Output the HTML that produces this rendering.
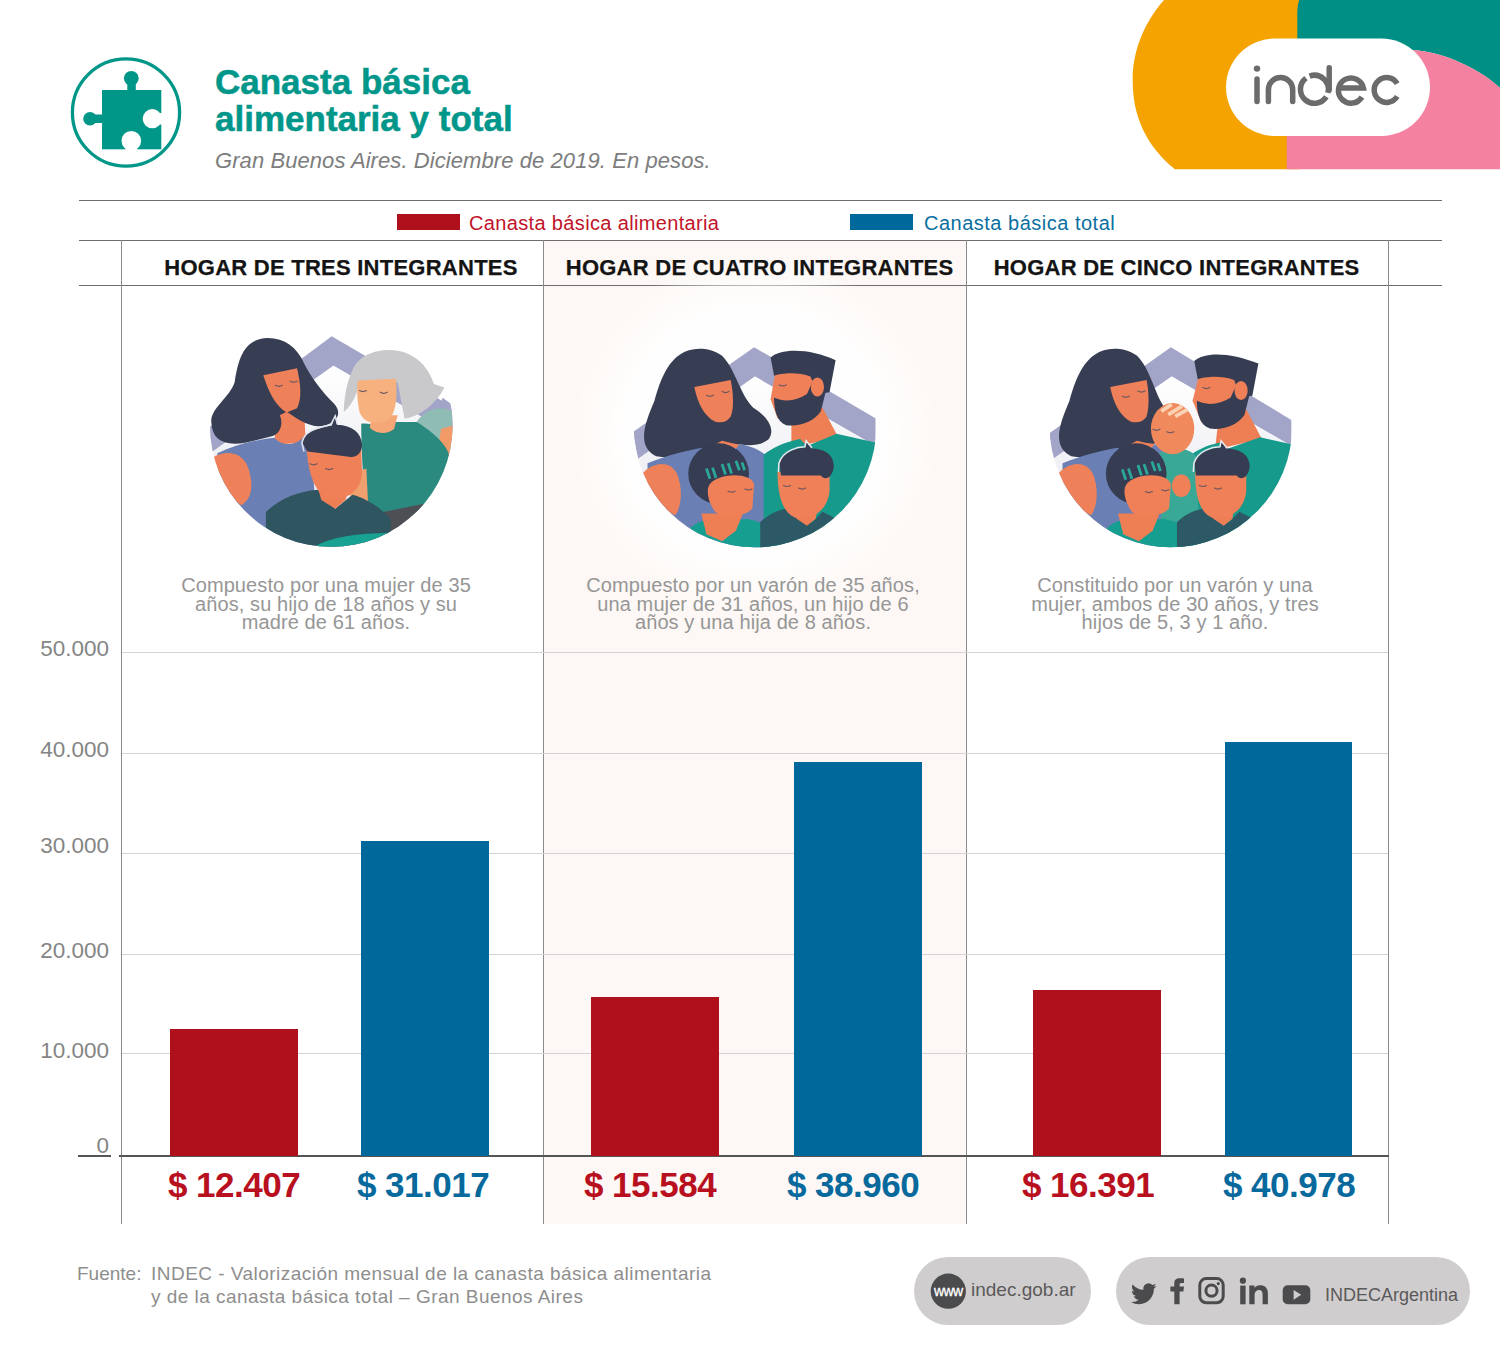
<!DOCTYPE html>
<html><head><meta charset="utf-8">
<style>
html,body{margin:0;padding:0;background:#fff;}
body{width:1500px;height:1361px;position:relative;overflow:hidden;font-family:"Liberation Sans",sans-serif;}
.a{position:absolute;}
.hl{position:absolute;height:1px;background:#6e6e6e;}
.vl{position:absolute;width:1px;background:#8a8a8a;}
.gl{position:absolute;height:1px;background:#d4d4d4;}
.title{position:absolute;left:215px;top:64px;color:#00968a;font-weight:bold;font-size:35px;line-height:36.5px;white-space:nowrap;-webkit-text-stroke:0.5px #00968a;}
.sub{position:absolute;left:215px;top:148px;color:#7d7d7d;font-style:italic;font-size:22px;letter-spacing:0.08px;white-space:nowrap;}
.hdr{position:absolute;top:255px;width:500px;font-weight:bold;font-size:22px;letter-spacing:0.25px;color:#141414;-webkit-text-stroke:0.25px #141414;white-space:nowrap;text-align:center;}
.desc{position:absolute;top:576px;width:500px;font-size:20px;letter-spacing:0.1px;line-height:18.7px;color:#969696;text-align:center;white-space:nowrap;}
.ylab{position:absolute;font-size:22.5px;line-height:25px;color:#858585;text-align:right;width:80px;left:29px;}
.bar{position:absolute;}
.r{background:#b0101b;}
.b{background:#00689a;}
.val{position:absolute;top:1165px;font-weight:bold;font-size:35px;letter-spacing:-0.5px;white-space:nowrap;text-align:center;}
.leg{position:absolute;top:212px;font-size:20px;letter-spacing:0.35px;white-space:nowrap;}
</style></head>
<body>
<!-- logo shapes -->
<svg class="a" style="left:0;top:0" width="1500" height="200" viewBox="0 0 1500 200">
  <path d="M1164 0 H1300 V169.3 H1175 C1145 145 1133 115 1132.7 82 C1132 55 1142 25 1164 0 Z" fill="#f5a300"/>
  <path d="M1299.3 0 H1500 V88 C1475 65 1440 52 1413 50 H1297.3 V12 Q1297.5 4 1299.3 0 Z" fill="#008f85"/>
  <path d="M1286.7 169.3 V50 H1413 C1440 52 1475 65 1500 88 V169.3 Z" fill="#f4819f"/>
  <rect x="1226" y="38.5" width="204" height="97.5" rx="48.75" fill="#fff"/>
  <g fill="none" stroke="#6b6b6b" stroke-width="5.5">
    <circle cx="1257" cy="68.6" r="3.2" fill="#6b6b6b" stroke="none"/>
    <path d="M1257 79 V101.6" stroke-linecap="round"/>
    <path d="M1268.4 101.6 V89.75 A12.15 12.15 0 0 1 1292.7 89.75 V101.6" stroke-linecap="round"/>
    <path d="M1329.2 67.8 V90" stroke-linecap="round"/>
    <path d="M1309.6 76.1 A14 14 0 0 1 1327.9 92.9"/>
    <path d="M1326.3 96.7 A14 14 0 1 1 1306.0 78.1"/>
    <path d="M1338 88 H1363.4 A12.6 12.6 0 1 0 1361.9 97"/>
    <path d="M1397.2 83.6 A12.4 12.4 0 1 0 1397.2 96.4"/>
  </g>
</svg>

<!-- puzzle icon -->
<svg class="a" style="left:0;top:0" width="200" height="200" viewBox="0 0 200 200">
  <defs>
    <mask id="pz">
      <rect x="0" y="0" width="200" height="200" fill="#fff"/>
      <circle cx="152.3" cy="118.7" r="9.6" fill="#000"/>
      <rect x="152" y="113" width="12" height="11.5" fill="#000"/>
      <circle cx="131.3" cy="140.8" r="9.8" fill="#000"/>
      <rect x="125.5" y="141" width="11.6" height="12" fill="#000"/>
    </mask>
  </defs>
  <circle cx="126" cy="112.5" r="53.6" fill="none" stroke="#009688" stroke-width="3.3"/>
  <g fill="#009688" mask="url(#pz)">
    <rect x="102" y="90" width="59.3" height="59.3"/>
    <circle cx="131.3" cy="78.3" r="7.4"/>
    <rect x="127.3" y="82" width="8.5" height="9"/>
    <circle cx="90" cy="118.7" r="6.8"/>
    <rect x="93" y="114.5" width="10" height="8.5"/>
  </g>
</svg>

<div class="title">Canasta básica<br>alimentaria y total</div>
<div class="sub">Gran Buenos Aires. Diciembre de 2019. En pesos.</div>

<!-- middle column bg -->
<div class="a" style="left:544px;top:241px;width:422px;height:983px;background:#fdf8f5;"></div>
<!-- table lines -->
<div class="hl" style="left:79px;width:1363px;top:200px;"></div>
<div class="hl" style="left:79px;width:1363px;top:240px;"></div>
<div class="hl" style="left:79px;width:1363px;top:285px;"></div>



<!-- illustrations -->
<svg class="a" style="left:0;top:0" width="1500" height="700" viewBox="0 0 1500 700">
<defs>
  <radialGradient id="glow" cx="50%" cy="50%" r="50%">
    <stop offset="0%" stop-color="#ffffff" stop-opacity="1"/>
    <stop offset="70%" stop-color="#ffffff" stop-opacity="0.9"/>
    <stop offset="100%" stop-color="#ffffff" stop-opacity="0"/>
  </radialGradient>
  <linearGradient id="inroof" x1="0" y1="0" x2="0" y2="1">
    <stop offset="0%" stop-color="#ffffff"/>
    <stop offset="100%" stop-color="#dfe0ea"/>
  </linearGradient>
  <clipPath id="c1"><circle cx="757" cy="580" r="700"/></clipPath>
  <clipPath id="c2"><circle cx="750" cy="525" r="700"/></clipPath>
  <clipPath id="c3"><circle cx="755" cy="525" r="700"/></clipPath>
</defs>
<ellipse cx="755" cy="435" rx="185" ry="180" fill="url(#glow)"/>

<!-- ILLUS 1 -->
<g transform="translate(200,325) scale(0.173333)" clip-path="url(#c1)">
  <path d="M40 600 L760 65 L1470 480 L1470 640 L770 235 L60 740 Z" fill="#a3a5c8"/>
  <path d="M770 235 L1470 640 L1470 1300 L60 1300 L60 740 Z" fill="url(#inroof)"/>
  <path d="M1400 420 L1470 470 L1470 760 L1300 700 Z" fill="#a3a5c8"/>
  <!-- woman -->
  <path d="M440 470 L600 470 L610 680 L430 690 Z" fill="#ee8159"/>
  <path d="M390 75 C250 80 220 200 200 330 C170 420 60 480 65 560 C70 660 130 700 260 680 L420 640 C470 620 480 560 460 520 L500 500 C560 540 640 600 720 580 C800 560 820 500 770 450 C700 380 640 300 600 220 C560 130 490 75 390 75 Z" fill="#373d53"/>
  
  <path d="M365 290 L560 250 C580 340 590 420 560 480 L500 505 C440 470 400 400 365 290 Z" fill="#ee8159"/>
  <path d="M100 740 C200 690 330 660 430 650 C470 700 560 700 600 640 C650 700 670 900 660 1300 L100 1300 Z" fill="#6a7fb3"/>
  <path d="M80 760 C150 720 250 730 280 830 C310 930 300 1000 240 1040 C170 1000 90 880 80 760 Z" fill="#ee8159"/>
  <!-- grandma -->
  <path d="M880 260 C920 160 1050 130 1150 150 C1280 180 1330 280 1350 340 L1410 360 C1380 420 1300 520 1180 540 L1140 330 L920 340 C900 420 860 480 830 500 C830 420 850 320 880 260 Z" fill="#c9c9cb"/>
  <path d="M1250 560 C1300 480 1400 460 1455 500 L1460 720 L1280 700 Z" fill="#8fbcb4"/>
  <path d="M1390 600 L1460 580 L1460 770 L1370 740 Z" fill="#f39a69"/>
  <path d="M930 570 C980 560 1040 600 1100 560 L1250 560 C1350 620 1430 700 1440 760 L1440 1100 L960 1100 C940 900 930 700 930 570 Z" fill="#2a8a80"/>
  <path d="M990 520 L1140 520 L1120 600 C1070 640 1000 620 980 590 Z" fill="#f6a777"/>
  <path d="M910 320 L1130 310 C1140 420 1130 520 1080 550 C1000 580 940 560 920 500 C905 430 905 370 910 320 Z" fill="#f7b17f"/>
  <path d="M860 850 L960 830 L970 1040 L870 1040 Z" fill="#f0a06e"/>
  <path d="M1000 1090 L1300 1030 L1300 1200 L1000 1200 Z" fill="#4d4f55"/>
  <!-- boy -->
  <path d="M380 1080 C460 1000 560 960 680 950 L780 1060 L880 980 C960 1000 1050 1060 1100 1120 L1100 1300 L380 1300 Z" fill="#2e5560"/>
  <path d="M680 940 L860 940 L840 1010 L780 1060 L700 1010 Z" fill="#ee7f55"/>
  <path d="M615 720 L930 700 L935 850 C930 950 860 1010 760 1000 C680 990 630 900 615 720 Z" fill="#ef8058"/>
  <path d="M590 680 C600 620 660 600 760 580 L780 530 L790 575 C880 580 930 620 935 690 C935 740 900 770 860 760 L620 730 Z" fill="#363c52"/>
  <path d="M600 730 L588 680 C600 615 660 595 755 575 L780 525 L792 572" fill="none" stroke="#dfe3ee" stroke-width="9"/>
  <path d="M640 1300 C700 1230 900 1200 1100 1200 L1100 1300 Z" fill="#17a293"/>
  <g stroke="#6a5560" stroke-width="7" fill="none" stroke-linecap="round"><path d="M435 348 Q455 360 475 348"/><path d="M520 324 Q540 336 560 324"/><path d="M920 378 Q940 390 960 378"/><path d="M1040 388 Q1060 400 1080 388"/><path d="M635 801 Q655 813 675 801"/><path d="M725 828 Q745 840 765 828"/></g>
</g>

<!-- ILLUS 2 -->
<g transform="translate(625,335) scale(0.173333)" clip-path="url(#c2)">
  <path d="M45 560 L745 70 L1445 480 L1445 640 L750 240 L75 715 Z" fill="#a3a5c8"/>
  <path d="M750 240 L1445 640 L1445 1300 L75 1300 L75 715 Z" fill="url(#inroof)"/>
  <!-- woman -->
  <path d="M500 470 L640 470 L660 650 L490 660 Z" fill="#ee8159"/>
  <path d="M430 80 C250 80 200 280 170 380 C120 500 60 640 180 700 C300 720 420 680 500 640 L560 610 C640 630 760 660 830 600 C870 540 820 470 740 420 C660 340 640 200 560 120 C520 90 470 80 430 80 Z" fill="#373d53"/>
  
  <path d="M400 300 L610 260 C625 340 630 420 610 470 C590 500 560 510 520 500 C460 470 420 400 400 300 Z" fill="#ee8159"/>
  <path d="M130 740 C250 690 380 660 450 650 C500 700 620 700 660 630 C740 640 820 680 850 740 L870 1300 L130 1300 Z" fill="#6a7fb3"/>
  <path d="M100 800 C160 730 260 720 300 800 C340 900 320 1000 290 1040 C200 1000 120 900 100 800 Z" fill="#ee8159"/>
  <!-- man -->
  <path d="M960 460 L1140 420 L1230 590 L960 650 Z" fill="#ee7f55"/>
  <path d="M800 690 C880 630 960 610 1010 600 L1050 640 L1220 570 L1445 620 L1445 1300 L800 1300 Z" fill="#169a8c"/>
  <path d="M870 200 L1070 220 L1140 250 L1130 420 L1000 520 L880 480 L840 370 Z" fill="#ef8058"/>
  <path d="M860 360 C920 390 990 380 1050 340 L1090 250 L1160 320 L1130 440 C1090 500 1010 530 930 520 C875 500 860 430 860 360 Z" fill="#363c52"/>
  <path d="M840 130 C900 70 1080 80 1215 145 L1180 330 L1110 340 L1070 240 C1000 210 900 220 860 235 Z" fill="#363c52"/>
  <ellipse cx="1110" cy="300" rx="38" ry="55" fill="#ef8058"/>
  <!-- girl -->
  <path d="M380 1110 C440 1060 520 1050 560 1080 L700 1060 C800 1080 870 1120 920 1180 L920 1300 L380 1300 Z" fill="#169f91"/>
  <path d="M440 1030 L680 1030 L640 1130 L560 1190 L470 1150 Z" fill="#ee7f55"/>
  <circle cx="540" cy="800" r="175" fill="#363c52"/>
  <g stroke="#2aa898" stroke-width="16"><path d="M470 770 L490 830 M505 765 L525 825 M560 745 L580 805 M595 740 L615 800 M640 725 L660 780 M675 735 L690 780"/></g>
  <path d="M480 880 C500 800 720 780 745 860 L735 1000 C700 1050 560 1060 520 1020 C490 980 470 920 480 880 Z" fill="#ef8058"/>
  <!-- boy -->
  <path d="M780 1080 C850 1010 950 990 1000 1000 L1080 1080 L1140 1020 C1200 1050 1260 1080 1300 1100 L1300 1300 L780 1300 Z" fill="#2d5966"/>
  <path d="M980 1000 L1110 1000 L1100 1060 L1050 1100 L990 1060 Z" fill="#ee7f55"/>
  <path d="M880 790 L1180 780 L1180 900 C1170 1000 1100 1060 1000 1060 C920 1040 880 950 880 790 Z" fill="#ef8058"/>
  <path d="M890 740 C910 670 1000 650 1040 650 L1045 615 L1075 655 C1150 655 1205 690 1205 760 C1195 830 1150 840 1130 810 L900 810 Z" fill="#363c52"/>
  <path d="M885 790 L888 740 C910 665 1000 645 1038 645 L1045 610 L1078 650" fill="none" stroke="#e6e8ef" stroke-width="9"/>
  <g stroke="#6a5560" stroke-width="7" fill="none" stroke-linecap="round"><path d="M470 348 Q490 360 510 348"/><path d="M560 326 Q580 338 600 326"/><path d="M890 288 Q910 300 930 288"/><path d="M595 901 Q615 913 635 901"/><path d="M692 888 Q712 900 732 888"/><path d="M915 868 Q935 880 955 868"/><path d="M1002 883 Q1022 895 1042 883"/></g>
</g>

<!-- ILLUS 3 -->
<g transform="translate(1040,335) scale(0.173333)" clip-path="url(#c3)">
  <path d="M50 570 L755 70 L1450 490 L1450 640 L760 240 L75 715 Z" fill="#a3a5c8"/>
  <path d="M760 240 L1450 640 L1450 1300 L75 1300 L75 715 Z" fill="url(#inroof)"/>
  <!-- woman -->
  <path d="M500 470 L640 470 L660 650 L490 660 Z" fill="#ee8159"/>
  <path d="M430 80 C250 80 200 280 170 380 C120 500 60 640 180 700 C300 720 420 680 500 640 L560 610 C640 630 700 640 740 600 C760 540 740 480 720 420 C660 340 640 200 560 120 C520 90 470 80 430 80 Z" fill="#373d53"/>
  
  <path d="M405 300 L615 260 C630 340 630 420 615 470 C595 500 565 510 525 500 C465 470 425 400 405 300 Z" fill="#ee8159"/>
  <path d="M130 740 C250 690 380 660 450 650 C500 700 620 700 660 630 C720 640 740 680 760 740 L760 1300 L130 1300 Z" fill="#6a7fb3"/>
  <path d="M105 800 C165 730 265 720 305 800 C345 900 325 1000 295 1040 C205 1000 125 900 105 800 Z" fill="#ee8159"/>
  <!-- man -->
  <path d="M1030 480 L1190 430 L1280 600 L1010 660 Z" fill="#ee7f55"/>
  <path d="M860 700 C920 650 990 630 1040 620 L1070 660 L1270 590 L1450 630 L1450 1300 L860 1300 Z" fill="#169a8c"/>
  <path d="M920 220 L1110 240 L1190 270 L1180 440 L1050 540 L930 500 L880 380 Z" fill="#ef8058"/>
  <path d="M905 380 C965 410 1040 400 1100 360 L1140 270 L1210 340 L1180 460 C1140 520 1060 550 980 540 C920 520 905 450 905 380 Z" fill="#363c52"/>
  <path d="M890 150 C950 95 1100 100 1260 165 L1225 350 L1160 360 L1120 260 C1050 230 950 240 910 255 Z" fill="#363c52"/>
  <ellipse cx="1160" cy="320" rx="38" ry="55" fill="#ef8058"/>
  <!-- baby -->
  <path d="M690 680 C760 640 860 650 900 700 L920 1150 L700 1150 Z" fill="#3aa896"/>
  <ellipse cx="765" cy="540" rx="125" ry="148" fill="#f0895c"/>
  <path d="M700 440 L760 400 M740 460 L820 410 M780 470 L850 430" stroke="#fbd2b4" stroke-width="22"/>
  <ellipse cx="815" cy="870" rx="55" ry="65" fill="#ef8058"/>
  <!-- girl -->
  <path d="M390 1110 C450 1060 530 1050 570 1080 L710 1060 C810 1080 880 1120 930 1180 L930 1300 L390 1300 Z" fill="#169f91"/>
  <path d="M450 1030 L690 1030 L650 1130 L570 1190 L480 1150 Z" fill="#ee7f55"/>
  <circle cx="555" cy="800" r="175" fill="#363c52"/>
  <g stroke="#2aa898" stroke-width="16"><path d="M475 775 L495 835 M510 770 L530 830 M565 750 L585 810 M600 745 L620 805 M645 730 L665 785 M680 740 L695 785"/></g>
  <path d="M490 880 C510 800 730 780 755 860 L745 1000 C710 1050 570 1060 530 1020 C500 980 480 920 490 880 Z" fill="#ef8058"/>
  <!-- boy -->
  <path d="M790 1080 C860 1010 960 990 1010 1000 L1090 1080 L1150 1020 C1210 1050 1270 1080 1310 1100 L1310 1300 L790 1300 Z" fill="#2d5966"/>
  <path d="M990 1000 L1120 1000 L1110 1060 L1060 1100 L1000 1060 Z" fill="#ee7f55"/>
  <path d="M895 790 L1190 780 L1190 900 C1180 1000 1110 1060 1010 1060 C930 1040 895 950 895 790 Z" fill="#ef8058"/>
  <path d="M890 740 C910 670 1000 650 1040 650 L1045 615 L1075 655 C1150 655 1210 690 1210 760 C1200 830 1155 840 1135 810 L900 810 Z" fill="#363c52"/>
  <path d="M885 790 L888 740 C910 665 1000 645 1038 645 L1045 610 L1078 650" fill="none" stroke="#e6e8ef" stroke-width="9"/>
  <g stroke="#6a5560" stroke-width="7" fill="none" stroke-linecap="round"><path d="M475 353 Q495 365 515 353"/><path d="M565 323 Q585 335 605 323"/><path d="M940 303 Q960 315 980 303"/><path d="M652 544 Q672 556 692 544"/><path d="M732 558 Q752 570 772 558"/><path d="M608 903 Q628 915 648 903"/><path d="M702 893 Q722 905 742 893"/><path d="M920 868 Q940 880 960 868"/><path d="M1007 883 Q1027 895 1047 883"/></g>
</g>
</svg>

<div class="vl" style="left:121px;top:240px;height:984px;"></div>
<div class="vl" style="left:543px;top:240px;height:984px;"></div>
<div class="vl" style="left:966px;top:240px;height:984px;"></div>
<div class="vl" style="left:1388px;top:240px;height:984px;"></div>

<!-- legend -->
<div class="a r" style="left:397px;top:214px;width:63px;height:16px;"></div>
<div class="leg" style="left:469px;color:#c0142a;">Canasta básica alimentaria</div>
<div class="a b" style="left:850px;top:214px;width:63px;height:16px;"></div>
<div class="leg" style="left:924px;color:#0a6fa0;letter-spacing:0.5px;">Canasta básica total</div>

<!-- headers -->
<div class="hdr" style="left:91px;">HOGAR DE TRES INTEGRANTES</div>
<div class="hdr" style="left:509.6px;">HOGAR DE CUATRO INTEGRANTES</div>
<div class="hdr" style="left:926.6px;">HOGAR DE CINCO INTEGRANTES</div>

<!-- descriptions -->
<div class="desc" style="left:76px;">Compuesto por una mujer de 35<br>años, su hijo de 18 años y su<br>madre de 61 años.</div>
<div class="desc" style="left:503px;">Compuesto por un varón de 35 años,<br>una mujer de 31 años, un hijo de 6<br>años y una hija de 8 años.</div>
<div class="desc" style="left:925px;">Constituido por un varón y una<br>mujer, ambos de 30 años, y tres<br>hijos de 5, 3 y 1 año.</div>

<!-- gridlines -->
<div class="gl" style="left:122px;width:1266px;top:652px;"></div>
<div class="gl" style="left:122px;width:1266px;top:753px;"></div>
<div class="gl" style="left:122px;width:1266px;top:853px;"></div>
<div class="gl" style="left:122px;width:1266px;top:954px;"></div>
<div class="gl" style="left:122px;width:1266px;top:1053px;"></div>
<div class="hl" style="left:119px;width:1270px;top:1155px;height:2px;background:#555;"></div>
<div class="hl" style="left:78px;width:33px;top:1155px;height:2px;background:#555;"></div>

<!-- y labels -->
<div class="ylab" style="top:636px;">50.000</div>
<div class="ylab" style="top:737px;">40.000</div>
<div class="ylab" style="top:833px;">30.000</div>
<div class="ylab" style="top:938px;">20.000</div>
<div class="ylab" style="top:1038px;">10.000</div>
<div class="ylab" style="top:1133px;">0</div>

<!-- bars -->
<div class="bar r" style="left:170px;width:128px;top:1029px;height:127px;"></div>
<div class="bar b" style="left:361px;width:128px;top:841px;height:315px;"></div>
<div class="bar r" style="left:591px;width:128px;top:997px;height:159px;"></div>
<div class="bar b" style="left:794px;width:128px;top:762px;height:394px;"></div>
<div class="bar r" style="left:1033px;width:128px;top:990px;height:166px;"></div>
<div class="bar b" style="left:1225px;width:127px;top:742px;height:414px;"></div>

<!-- values -->
<div class="val" style="left:134px;width:200px;color:#b8101e;">$ 12.407</div>
<div class="val" style="left:323px;width:200px;color:#07699c;">$ 31.017</div>
<div class="val" style="left:550px;width:200px;color:#b8101e;">$ 15.584</div>
<div class="val" style="left:753px;width:200px;color:#07699c;">$ 38.960</div>
<div class="val" style="left:988px;width:200px;color:#b8101e;">$ 16.391</div>
<div class="val" style="left:1189px;width:200px;color:#07699c;">$ 40.978</div>

<!-- footer -->
<div class="a" style="left:77px;top:1262px;font-size:19px;line-height:24px;color:#8e8e8e;white-space:nowrap;">Fuente:</div>
<div class="a" style="left:151px;top:1262px;font-size:19px;letter-spacing:0.47px;line-height:23.4px;color:#8e8e8e;white-space:nowrap;">INDEC - Valorización mensual de la canasta básica alimentaria<br>y de la canasta básica total – Gran Buenos Aires</div>

<div class="a" style="left:914px;top:1257px;width:177px;height:68px;border-radius:34px;background:#d0cdce;"></div>
<div class="a" style="left:1116px;top:1257px;width:354px;height:68px;border-radius:34px;background:#d0cdce;"></div>
<svg class="a" style="left:0;top:1200px" width="1500" height="161" viewBox="0 1200 1500 161">
  <circle cx="948.3" cy="1291.2" r="17.6" fill="#4b4b4d"/>
  <text x="948.3" y="1296" text-anchor="middle" font-family="Liberation Sans" font-size="14" letter-spacing="-0.6" fill="#ffffff" stroke="#ffffff" stroke-width="0.3">www</text>
  <!-- twitter -->
  <g transform="translate(1131,1281) scale(1.06,1.07)" fill="#4b4b4d">
    <path d="M23.953 4.57a10 10 0 01-2.825.775 4.958 4.958 0 002.163-2.723c-.951.555-2.005.959-3.127 1.184a4.92 4.92 0 00-8.384 4.482C7.690 8.095 4.067 6.130 1.640 3.162a4.822 4.822 0 00-.666 2.475c0 1.710.870 3.213 2.188 4.096a4.904 4.904 0 01-2.228-.616v.060a4.923 4.923 0 003.946 4.827 4.996 4.996 0 01-2.212.085 4.936 4.936 0 004.604 3.417 9.867 9.867 0 01-6.102 2.105c-.390 0-.779-.023-1.170-.067a13.995 13.995 0 007.557 2.209c9.053 0 13.998-7.496 13.998-13.985 0-.210 0-.420-.015-.630A9.935 9.935 0 0024 4.590z"/>
  </g>
  <!-- facebook -->
  <path d="M1174.3 1304.3 V1291.5 H1170.4 V1286.4 H1174.3 V1283.2 C1174.3 1279.6 1176.4 1278.2 1179.6 1278.2 C1181.1 1278.2 1182.6 1278.4 1184 1278.6 V1282.9 H1181.6 C1179.9 1282.9 1179.6 1283.6 1179.6 1284.9 V1286.4 H1184 L1183.4 1291.5 H1179.6 V1304.3 Z" fill="#4b4b4d"/>
  <!-- instagram -->
  <rect x="1199.8" y="1278.6" width="23.4" height="24.2" rx="6.5" fill="none" stroke="#4b4b4d" stroke-width="3"/>
  <circle cx="1211.5" cy="1290.7" r="5.6" fill="none" stroke="#4b4b4d" stroke-width="3"/>
  <circle cx="1218.3" cy="1283.6" r="1.6" fill="#4b4b4d"/>
  <!-- linkedin -->
  <circle cx="1242.9" cy="1280.7" r="3.1" fill="#4b4b4d"/>
  <rect x="1240.2" y="1285.6" width="5.4" height="18.7" fill="#4b4b4d"/>
  <path d="M1249.3 1304.3 V1285.6 H1254.5 V1288 C1255.5 1286.3 1257.3 1285.2 1259.9 1285.2 C1264.8 1285.2 1267.9 1287.8 1267.9 1293.5 V1304.3 H1262.6 V1294.5 C1262.6 1291.6 1261.6 1289.9 1259.2 1289.9 C1256.6 1289.9 1254.6 1291.6 1254.6 1294.8 V1304.3 Z" fill="#4b4b4d"/>
  <!-- youtube -->
  <rect x="1282.7" y="1285.3" width="27.6" height="19" rx="5" fill="#4b4b4d"/>
  <path d="M1293.6 1289.9 L1301.2 1294.8 L1293.6 1299.7 Z" fill="#d0cdce"/>
</svg>
<div class="a" style="left:971px;top:1279px;font-size:19px;color:#5a5a5a;white-space:nowrap;">indec.gob.ar</div>
<div class="a" style="left:1325px;top:1285px;font-size:18px;letter-spacing:0px;color:#5a5a5a;white-space:nowrap;">INDECArgentina</div>
</body></html>
